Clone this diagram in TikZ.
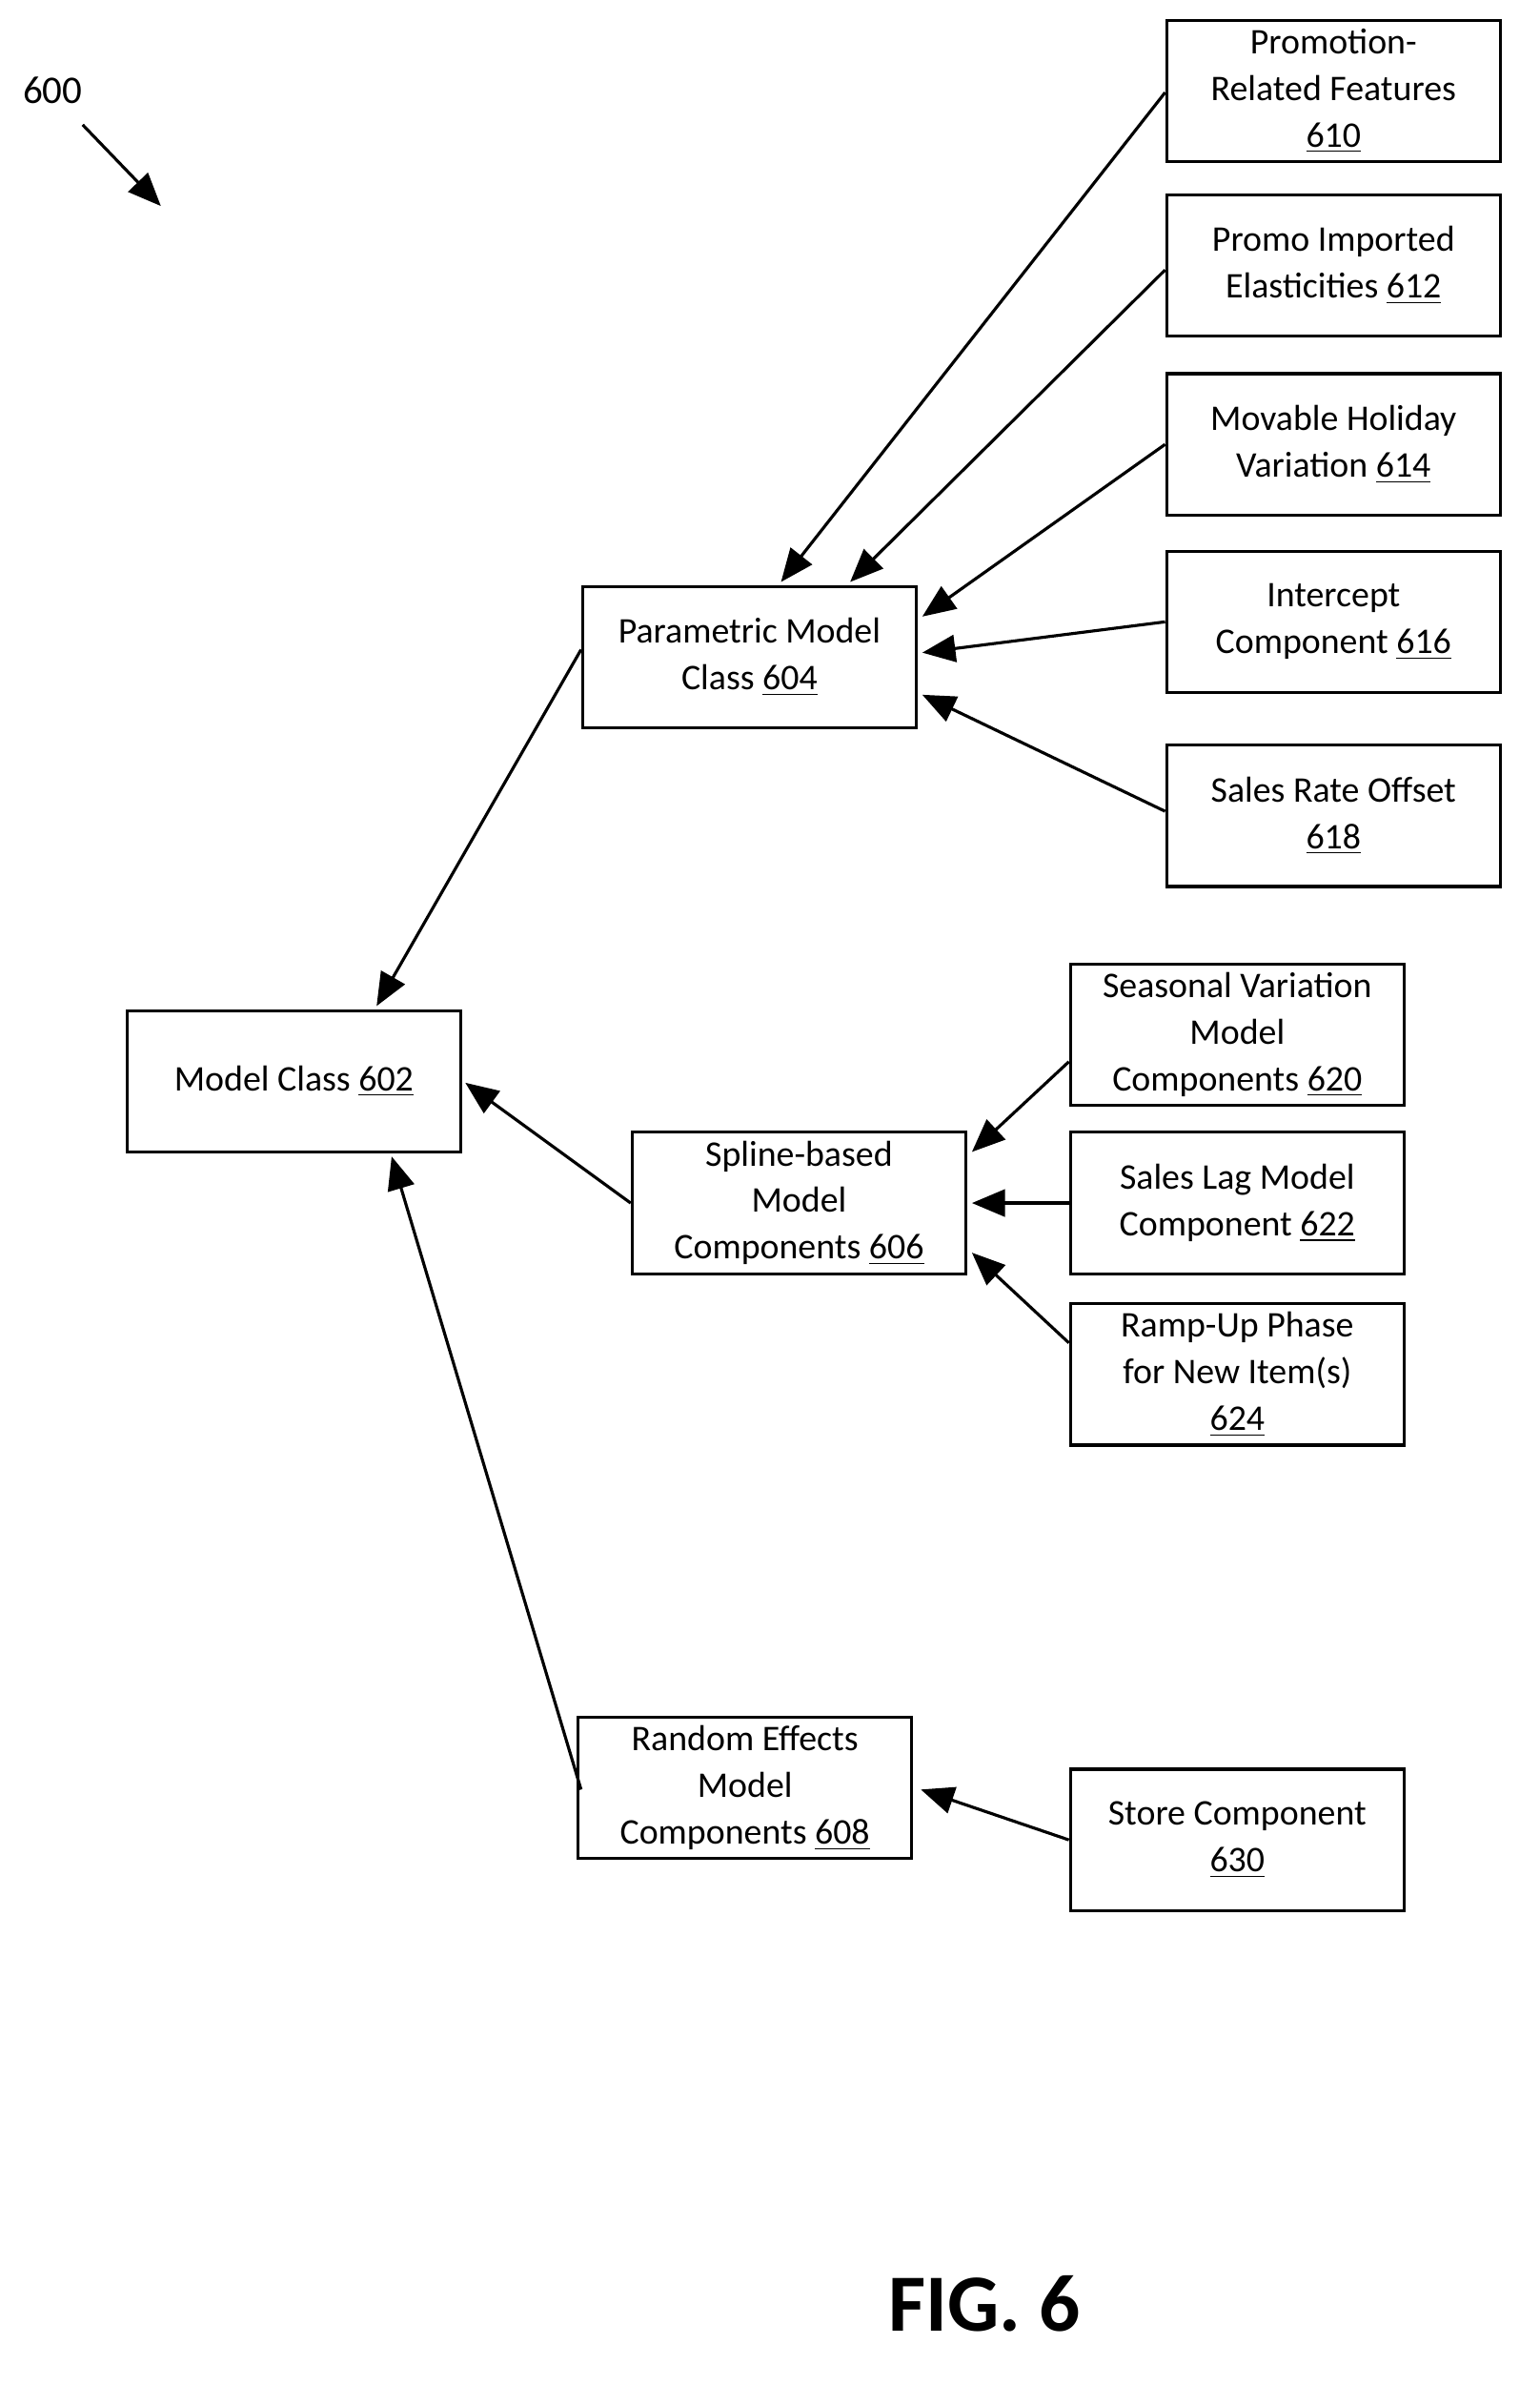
\documentclass[tikz,border=0pt]{standalone}
\usepackage{fontspec}
\setmainfont{Carlito}
\usetikzlibrary{arrows.meta,calc}
\begin{document}
\begin{tikzpicture}[x=0.5pt,y=-0.5pt,
  box/.style={draw,line width=1pt,minimum width=111pt,minimum height=47pt,align=center,font=\fontsize{12}{15.5}\selectfont,inner sep=1pt},
  arr/.style={line width=1pt,-{Triangle[length=11pt,width=9pt]}}]
\useasboundingbox (0,0) rectangle (1024,1586);
\node[font=\fontsize{13}{15}\selectfont] (lbl) at (35,60) {600};
\coordinate (a1) at (55,83); \coordinate (a2) at (107,137);
\draw[arr] (a1) -- (a2);
\node[box] (n610) at (887,60.5) {Promotion-\\Related Features\\\underline{610}};
\node[box] (n612) at (887,176.5) {Promo Imported\\Elasticities \underline{612}};
\node[box] (n614) at (887,295.5) {Movable Holiday\\Variation \underline{614}};
\node[box] (n616) at (887,413.5) {Intercept\\Component \underline{616}};
\node[box] (n618) at (887,542.5) {Sales Rate Offset\\\underline{618}};
\node[box] (n604) at (498.5,437) {Parametric Model\\Class \underline{604}};
\node[box] (n602) at (195.5,719) {Model Class \underline{602}};
\node[box] (n606) at (531.5,800) {Spline-based\\Model\\Components \underline{606}};
\node[box] (n620) at (823,688) {Seasonal Variation\\Model\\Components \underline{620}};
\node[box] (n622) at (823,800) {Sales Lag Model\\Component \underline{622}};
\node[box] (n624) at (823,914) {Ramp-Up Phase\\for New Item(s)\\\underline{624}};
\node[box] (n608) at (495.5,1189) {Random Effects\\Model\\Components \underline{608}};
\node[box] (n630) at (823,1223.5) {Store Component\\\underline{630}};
\node[font=\bfseries\fontsize{27}{30}\selectfont] (fig) at (655,1532) {FIG. 6};
\draw[arr] ($(n610.west)+(0,1)$) -- ($(n604.north)+(21,-2)$);
\draw[arr] ($(n612.west)+(0,3)$) -- ($(n604.north)+(67,-2)$);
\draw[arr] (n614.west) -- ($(n604.east)+(3,-27)$);
\draw[arr] (n616.west) -- ($(n604.east)+(3,-3)$);
\draw[arr] ($(n618.west)+(0,-3)$) -- ($(n604.east)+(3,25)$);
\draw[arr] ($(n604.west)+(0,-5)$) -- ($(n602.north)+(55,-2)$);
\draw[arr] (n606.west) -- ($(n602.east)+(2,1)$);
\draw[arr] ($(n608.west)+(3,1)$) -- ($(n602.south)+(65,2)$);
\draw[arr] ($(n620.west)+(0,18)$) -- ($(n606.east)+(3,-34)$);
\draw[arr] (n622.west) -- ($(n606.east)+(3,0)$);
\draw[arr] ($(n624.west)+(0,-21)$) -- ($(n606.east)+(3,33)$);
\draw[arr] (n630.west) -- ($(n608.east)+(5,1)$);
\end{tikzpicture}
\end{document}
